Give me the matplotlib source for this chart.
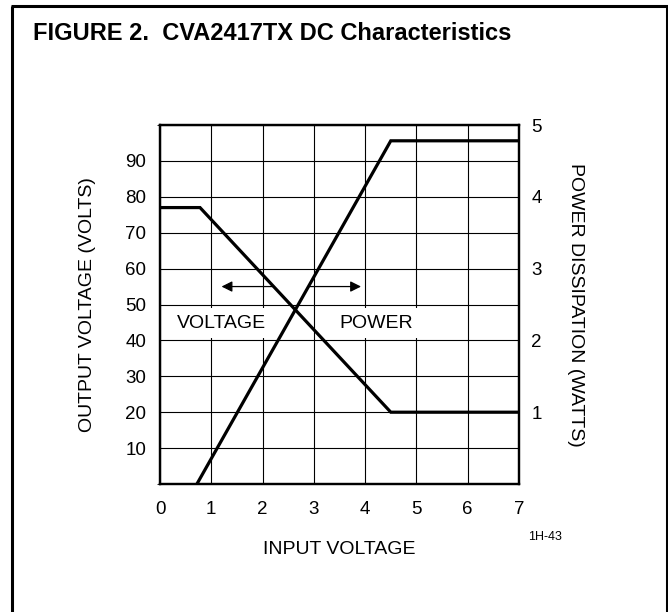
import matplotlib.pyplot as plt
from matplotlib.lines import Line2D

plt.rcParams['font.family'] = ['Liberation Sans', 'DejaVu Sans']

# data
input_v = [0, 0.78, 4.5, 7]
output_v = [77, 77, 20, 20]          # left axis, volts
power_x = [0.72, 4.5, 7]
power_w = [0, 4.78, 4.78]            # right axis, watts

x_ticks = [0, 1, 2, 3, 4, 5, 6, 7]
left_ticks = [10, 20, 30, 40, 50, 60, 70, 80, 90]
right_ticks = [1, 2, 3, 4, 5]

# arrow annotation (left axis units)
arrow_y = 55
arrow_left = (2.23, 1.2)
arrow_right = (2.89, 3.92)

fig = plt.figure(figsize=(6.68, 6.12), dpi=100)
W, H = 668, 612

# outer frame (open at bottom)
lw_frame = 2.2
fx0, fx1, fy = 12.5 / W, 666.5 / W, 1 - 5.5 / H
fig.add_artist(Line2D([fx0, fx0], [0, fy], color='k', lw=lw_frame, solid_capstyle='butt'))
fig.add_artist(Line2D([fx0 - 1.1 / W, fx1 + 1.1 / W], [fy, fy], color='k', lw=lw_frame, solid_capstyle='butt'))
fig.add_artist(Line2D([fx1, fx1], [0, fy], color='k', lw=lw_frame, solid_capstyle='butt'))

fig.text(33 / W, 1 - 40 / H, 'FIGURE 2.  CVA2417TX DC Characteristics',
         fontsize=17, fontweight='bold', ha='left', va='baseline')

ax = fig.add_axes([160 / W, 1 - 484 / H, (519 - 160) / W, (484 - 125) / H])
ax.set_xlim(0, 7)
ax.set_ylim(0, 100)
ax.set_xticks(x_ticks)
ax.set_yticks(left_ticks)
ax.set_yticks(range(0, 101, 10), minor=True)
ax.grid(True, which='both', axis='y', color='k', lw=0.8)
ax.grid(True, axis='x', color='k', lw=0.8)
ax.tick_params(length=0, labelsize=13.5, pad=10)
ax.tick_params(axis='x', pad=12.5)
for s in ax.spines.values():
    s.set_linewidth(1.6)

ax.plot(input_v, output_v, color='k', lw=2.3, solid_joinstyle='miter', zorder=4)

ax.set_xlabel('INPUT VOLTAGE', fontsize=14, labelpad=16)
ax.set_ylabel('OUTPUT VOLTAGE (VOLTS)', fontsize=14, labelpad=21)

box = dict(boxstyle='square,pad=0.32', fc='white', ec='none')
ax.text(1.19, 44.8, 'VOLTAGE', fontsize=14, ha='center', va='center', bbox=box, zorder=3)
ax.text(4.21, 44.8, 'POWER', fontsize=14, ha='center', va='center', bbox=box, zorder=3)

ap = dict(arrowstyle='-|>', lw=0.9, color='k', mutation_scale=16,
          shrinkA=0, shrinkB=0)
ax.annotate('', xy=(arrow_left[1], arrow_y), xytext=(arrow_left[0], arrow_y), arrowprops=ap)
ax.annotate('', xy=(arrow_right[1], arrow_y), xytext=(arrow_right[0], arrow_y), arrowprops=ap)

ax2 = ax.twinx()
ax2.set_ylim(0, 5)
ax2.set_yticks(right_ticks)
ax2.tick_params(length=0, labelsize=13.5, pad=9)
for s in ax2.spines.values():
    s.set_linewidth(1.6)
ax2.plot(power_x, power_w, color='k', lw=2.3, solid_joinstyle='miter', zorder=4)
ax2.set_ylabel('POWER DISSIPATION (WATTS)', fontsize=14, rotation=-90,
               va='bottom', labelpad=18)

fig.text(528 / W, 1 - 537 / H, '1H-43', fontsize=9, ha='left', va='center')

fig.savefig('out.png', dpi=100)
